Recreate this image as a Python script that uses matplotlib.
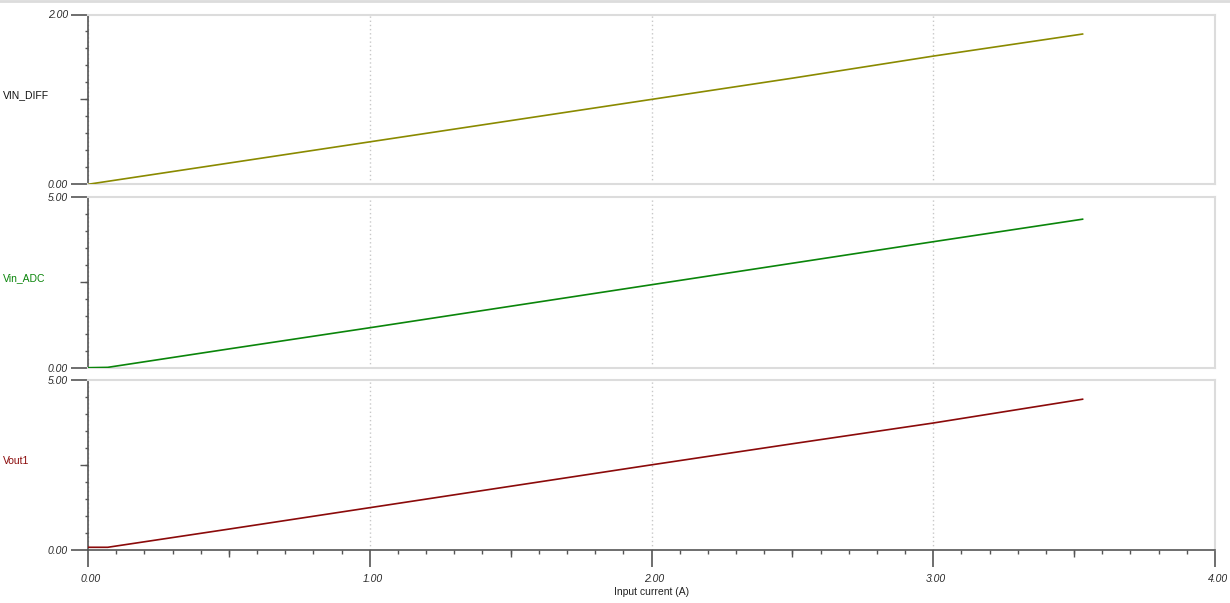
#!/usr/bin/env python3
"""Three stacked transfer curves vs input current (TINA-style sweep plot)."""
import matplotlib
matplotlib.use("Agg")
import matplotlib.pyplot as plt
import matplotlib.transforms as mtransforms
from matplotlib.ticker import MultipleLocator, NullLocator
from matplotlib.lines import Line2D

plt.rcParams["font.family"] = ["Liberation Sans", "DejaVu Sans"]

# sweep points (A)
current = [0.0, 0.07, 0.5, 1.0, 1.5, 2.0, 2.5, 3.0, 3.53]
vin_diff = [0.0, 0.035, 0.25, 0.50, 0.75, 1.00, 1.25, 1.51, 1.77]
vin_adc = [0.0, 0.01, 0.55, 1.17, 1.80, 2.43, 3.06, 3.69, 4.35]
vout1 = [0.065, 0.065, 0.60, 1.23, 1.86, 2.49, 3.11, 3.72, 4.42]

names = ["VIN_DIFF", "Vin_ADC", "Vout1"]
series = [vin_diff, vin_adc, vout1]
y_tops = [2.0, 5.0, 5.0]
colors = ["#8a8a00", "#0a850a", "#8b0a0a"]
name_colors = ["#111111", "#0a850a", "#8b0a0a"]
x_labels = ["0.00", "1.00", "2.00", "3.00", "4.00"]

W, H = 1230, 603
PX = 0.72  # points per pixel at dpi 100
DARK = "#555555"
LIGHT = "#dcdcdc"
# panel (top, bottom) in pixels
rows = [(14.5, 184.3), (197.0, 367.7), (379.5, 549.5)]
label_y = [95.5, 277.7, 461.0]
x0, x1 = 88, 1215

fig = plt.figure(figsize=(W / 100, H / 100), dpi=100)
fig.add_artist(Line2D([0, 1], [1 - 1 / H, 1 - 1 / H], color=LIGHT, lw=2))

for i, (name, ys, top, col) in enumerate(zip(names, series, y_tops, colors)):
    t, b = rows[i]
    ax = fig.add_axes([x0 / W, 1 - b / H, (x1 - x0) / W, (b - t) / H])
    last = i == len(names) - 1
    ax.plot(current, ys, color=col, lw=1.2, zorder=3)
    ax.set_xlim(0, 4)
    ax.set_ylim(0, top)

    for s in ("top", "right"):
        ax.spines[s].set_color(LIGHT)
        ax.spines[s].set_linewidth(1.5)
    ax.spines["left"].set_color(DARK)
    ax.spines["left"].set_linewidth(1.2)
    ax.spines["bottom"].set_color(DARK if last else LIGHT)
    ax.spines["bottom"].set_linewidth(1.2 if last else 1.5)

    # y ticks: labelled ends, medium middle, short minors
    ax.set_yticks([0, top])
    ax.set_yticklabels([f"{0:.2f}", f"{top:.2f}"])
    ax.yaxis.set_minor_locator(MultipleLocator(top / 10))
    ax.tick_params(axis="y", which="major", length=17 * PX, width=1.2, color=DARK,
                   pad=3 * PX, labelsize=7.5, labelcolor="#2a2a2a")
    ax.tick_params(axis="y", which="minor", length=3.5 * PX, width=1.0, color=DARK)
    for lab in ax.get_yticklabels():
        lab.set_fontstyle("italic")
    sy = ax.secondary_yaxis("left")
    sy.set_yticks([top / 2])
    sy.set_yticklabels([])
    sy.yaxis.set_minor_locator(NullLocator())
    sy.tick_params(length=8 * PX, width=1.0, color=DARK)
    sy.spines["left"].set_visible(False)

    ax.set_xticks([0, 1, 2, 3, 4])
    ax.grid(axis="x", ls=(0, (1, 2)), color="#c8c8c8", lw=1)
    if last:
        ax.set_xticklabels(x_labels)
        ax.xaxis.set_minor_locator(MultipleLocator(0.1))
        ax.tick_params(axis="x", which="major", length=17 * PX, width=1.2, color=DARK,
                       pad=7 * PX, labelsize=7.5, labelcolor="#2a2a2a")
        ax.tick_params(axis="x", which="minor", length=4 * PX, width=1.0, color=DARK)
        shift = mtransforms.ScaledTranslation(3 / 100, 0, fig.dpi_scale_trans)
        for lab in ax.get_xticklabels():
            lab.set_fontstyle("italic")
            lab.set_transform(lab.get_transform() + shift)
        sx = ax.secondary_xaxis("bottom")
        sx.set_xticks([0.5, 1.5, 2.5, 3.5])
        sx.set_xticklabels([])
        sx.xaxis.set_minor_locator(NullLocator())
        sx.tick_params(length=7 * PX, width=1.0, color=DARK)
        sx.spines["bottom"].set_visible(False)
    else:
        ax.tick_params(axis="x", which="both", length=0, labelbottom=False)

    fig.text(3 / W, 1 - label_y[i] / H, name, color=name_colors[i],
             fontsize=7.5, ha="left", va="center")

fig.text(652 / W, 1 - 591.7 / H, "Input current (A)", fontsize=7.5,
         color="#222222", ha="center", va="center")

fig.savefig("out.png", dpi=100)
